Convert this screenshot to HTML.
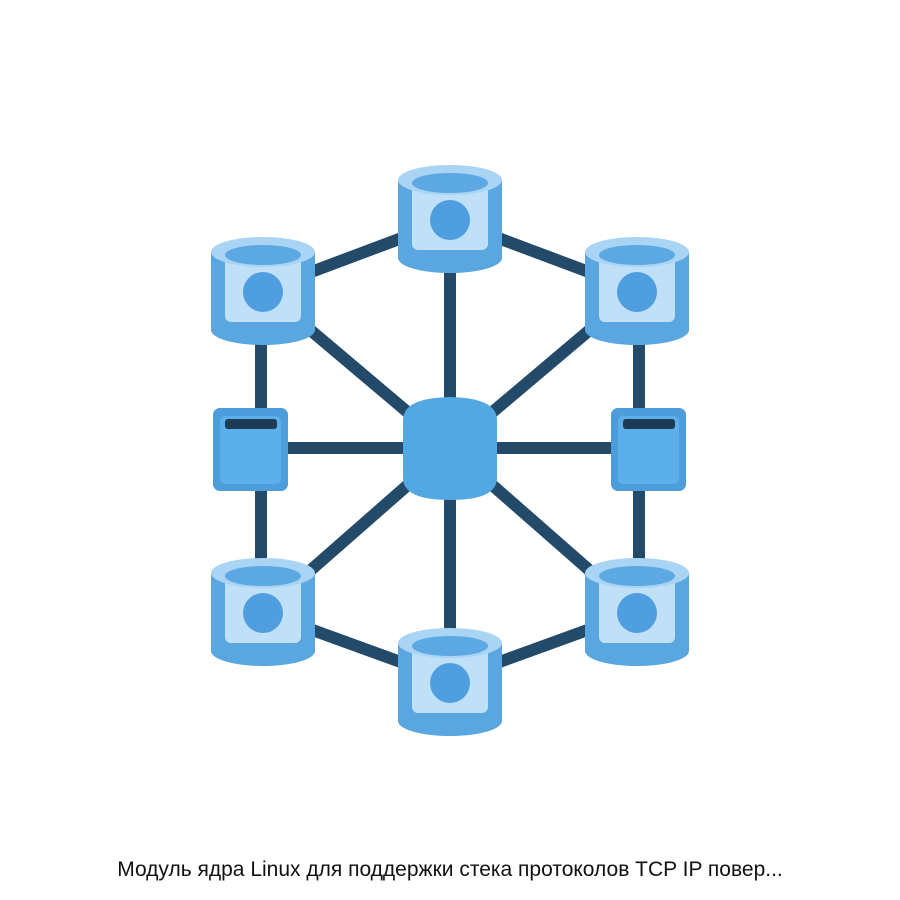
<!DOCTYPE html>
<html><head><meta charset="utf-8"><style>
body{margin:0;background:#fff;width:900px;height:900px;overflow:hidden}
.cap{position:absolute;top:858px;left:0;width:900px;text-align:center;font-family:"Liberation Sans",sans-serif;font-size:21px;color:#111}
</style></head><body>
<svg width="900" height="900" style="position:absolute;left:0;top:0">
<defs>
<g id="cyl">
<rect x="-52" y="15" width="104" height="78" fill="#5aa6e0"/>
<ellipse cx="0" cy="93" rx="52" ry="15" fill="#5aa6e0"/>
<rect x="-38" y="15" width="76" height="70" rx="6" fill="#bfe0f7"/>
<ellipse cx="0" cy="15" rx="52" ry="15" fill="#a9d4f3"/>
<ellipse cx="0" cy="18" rx="38" ry="10" fill="#5ba8e2"/>
<circle cx="0" cy="55" r="20" fill="#4e9ee0"/>
</g>
</defs>
<g stroke="#244a69" stroke-width="12" fill="none">
<line x1="450" y1="448" x2="450" y2="230"/>
<line x1="450" y1="448" x2="450" y2="680"/>
<line x1="450" y1="448" x2="263" y2="290"/>
<line x1="450" y1="448" x2="637" y2="290"/>
<line x1="450" y1="448" x2="263" y2="612"/>
<line x1="450" y1="448" x2="637" y2="612"/>
<line x1="250" y1="448" x2="650" y2="448"/>
<line x1="450" y1="220" x2="263" y2="290"/>
<line x1="450" y1="220" x2="637" y2="290"/>
<line x1="450" y1="680" x2="263" y2="612"/>
<line x1="450" y1="680" x2="637" y2="612"/>
<line x1="261" y1="300" x2="261" y2="600"/>
<line x1="639" y1="300" x2="639" y2="600"/>
</g>
<use href="#cyl" x="450" y="165"/>
<use href="#cyl" x="263" y="237"/>
<use href="#cyl" x="637" y="237"/>
<use href="#cyl" x="263" y="558"/>
<use href="#cyl" x="637" y="558"/>
<use href="#cyl" x="450" y="628"/>
<path d="M403,420 Q403,398 450,397 Q497,398 497,420 L497,478 Q497,500 450,500 Q403,500 403,478 Z" fill="#54a8e2"/>
<rect x="213" y="408" width="75" height="83" rx="7" fill="#4d9ddd"/>
<rect x="220" y="416" width="61" height="68" rx="5" fill="#5cb0ea"/>
<rect x="225" y="419" width="52" height="10" rx="3" fill="#1f3a55"/>
<rect x="611" y="408" width="75" height="83" rx="7" fill="#4d9ddd"/>
<rect x="618" y="416" width="61" height="68" rx="5" fill="#5cb0ea"/>
<rect x="623" y="419" width="52" height="10" rx="3" fill="#1f3a55"/>
</svg>
<div class="cap">Модуль ядра Linux для поддержки стека протоколов TCP IP повер...</div>
</body></html>
